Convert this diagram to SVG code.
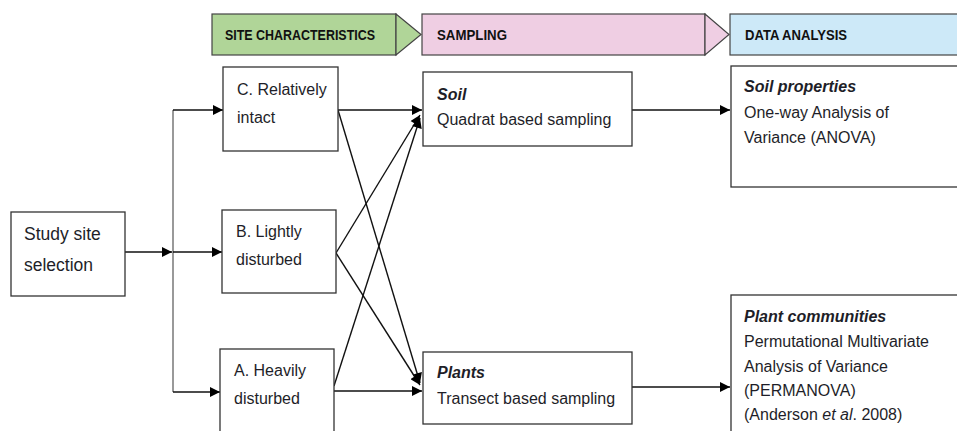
<svg xmlns="http://www.w3.org/2000/svg" width="957" height="431" viewBox="0 0 957 431">
<defs>
<style>
.box{fill:#fff;stroke:#333;stroke-width:1.3}
.t{font-family:"Liberation Sans",Arial,sans-serif;font-size:16px;fill:#1e1e28}
.bi{font-weight:bold;font-style:italic}
.h{font-family:"Liberation Sans",Arial,sans-serif;font-size:15px;font-weight:bold;fill:#111}
.hs{stroke:#444;stroke-width:1.2}
.c{fill:none;stroke:#111;stroke-width:1.4}
.v{fill:none;stroke:#555;stroke-width:1.2}
</style>
<marker id="ah" viewBox="0 0 10 10" refX="10" refY="5" markerWidth="11" markerHeight="10" markerUnits="userSpaceOnUse" orient="auto">
<path d="M0,0 L10,5 L0,10 Z" fill="#000"/>
</marker>
</defs>
<rect width="957" height="431" fill="#fff"/>

<g id="header-site">
<rect x="212" y="14" width="184" height="41" fill="#b0d598" class="hs"/>
<polygon points="396,14 421,34.5 396,55" fill="#b0d598" class="hs"/>
<text class="h" x="225" y="40" textLength="150" lengthAdjust="spacingAndGlyphs">SITE CHARACTERISTICS</text>
</g>
<g id="header-sampling">
<rect x="422" y="14" width="283" height="41" fill="#efcee3" class="hs"/>
<polygon points="705,14 729,34.5 705,55" fill="#efcee3" class="hs"/>
<text class="h" x="437" y="40" textLength="70" lengthAdjust="spacingAndGlyphs">SAMPLING</text>
</g>
<g id="header-analysis">
<rect x="730" y="14" width="240" height="41" fill="#cde9f8" class="hs"/>
<text class="h" x="745" y="40" textLength="102" lengthAdjust="spacingAndGlyphs">DATA ANALYSIS</text>
</g>

<g id="connectors">
<line class="c" x1="125" y1="252" x2="172" y2="252" marker-end="url(#ah)"/>
<line class="v" x1="173" y1="110" x2="173" y2="392"/>
<line class="c" x1="173" y1="110" x2="223" y2="110" marker-end="url(#ah)"/>
<line class="c" x1="173" y1="252" x2="222" y2="252" marker-end="url(#ah)"/>
<line class="c" x1="173" y1="392" x2="220" y2="392" marker-end="url(#ah)"/>
<line class="c" x1="338" y1="110" x2="422" y2="110" marker-end="url(#ah)"/>
<line class="c" x1="338" y1="110" x2="420" y2="383" marker-end="url(#ah)"/>
<line class="c" x1="336" y1="253" x2="420" y2="115" marker-end="url(#ah)"/>
<line class="c" x1="336" y1="253" x2="420" y2="385" marker-end="url(#ah)"/>
<line class="c" x1="334" y1="386" x2="420" y2="118" marker-end="url(#ah)"/>
<line class="c" x1="334" y1="391" x2="422" y2="391" marker-end="url(#ah)"/>
<line class="c" x1="632" y1="110" x2="730" y2="110" marker-end="url(#ah)"/>
<line class="c" x1="632" y1="387" x2="730" y2="387" marker-end="url(#ah)"/>
</g>

<g id="study-site">
<rect class="box" x="11" y="212" width="114" height="84"/>
<text class="t" x="24" y="240" style="font-size:17.5px">Study site</text>
<text class="t" x="24" y="271" style="font-size:17.5px">selection</text>
</g>
<g id="site-c">
<rect class="box" x="223" y="67" width="115" height="84"/>
<text class="t" x="237" y="95">C. Relatively</text>
<text class="t" x="237" y="123">intact</text>
</g>
<g id="site-b">
<rect class="box" x="222" y="210" width="114" height="83"/>
<text class="t" x="236" y="237">B. Lightly</text>
<text class="t" x="236" y="265">disturbed</text>
</g>
<g id="site-a">
<rect class="box" x="220" y="349" width="114" height="100"/>
<text class="t" x="234" y="376">A. Heavily</text>
<text class="t" x="234" y="404">disturbed</text>
</g>
<g id="soil">
<rect class="box" x="423" y="72" width="209" height="74"/>
<text class="t bi" x="437" y="100">Soil</text>
<text class="t" x="437" y="125">Quadrat based sampling</text>
</g>
<g id="plants">
<rect class="box" x="423" y="352" width="209" height="72"/>
<text class="t bi" x="437" y="378">Plants</text>
<text class="t" x="437" y="404">Transect based sampling</text>
</g>
<g id="soil-properties">
<rect class="box" x="731" y="66" width="240" height="121"/>
<text class="t bi" x="744" y="92">Soil properties</text>
<text class="t" x="744" y="118">One-way Analysis of</text>
<text class="t" x="744" y="143">Variance (ANOVA)</text>
</g>
<g id="plant-communities">
<rect class="box" x="731" y="295" width="240" height="150"/>
<text class="t bi" x="744" y="322">Plant communities</text>
<text class="t" x="744" y="347">Permutational Multivariate</text>
<text class="t" x="744" y="372">Analysis of Variance</text>
<text class="t" x="744" y="396">(PERMANOVA)</text>
<text class="t" x="744" y="420">(Anderson <tspan font-style="italic">et al</tspan>. 2008)</text>
</g>
</svg>
